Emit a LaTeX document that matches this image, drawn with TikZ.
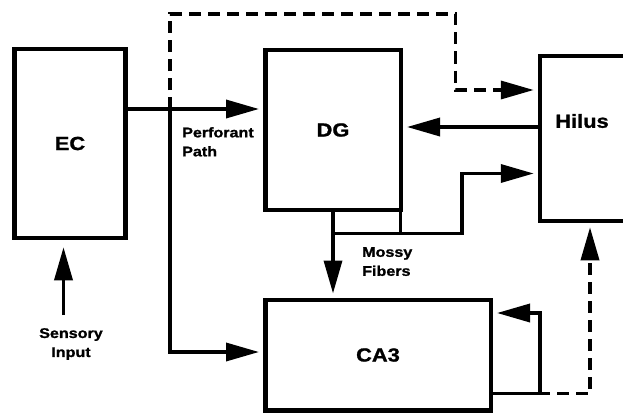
\documentclass[tikz,border=0pt]{standalone}
\usepackage{fontspec}
\setmainfont{Liberation Sans}[FakeStretch=1.15,BoldFeatures={FakeBold=1.2}]
\usetikzlibrary{arrows.meta,positioning,calc}

\begin{document}
\begin{tikzpicture}[x=1pt,y=-1pt,
  box/.style={draw,line width=4.5pt,inner sep=0pt,
    font=\fontsize{19}{19}\selectfont\bfseries},
  lab/.style={inner sep=0pt,font=\fontsize{14}{19}\selectfont\bfseries},
  wire/.style={line width=3.5pt},
  arr/.style={wire,-{Triangle[length=33pt,width=18pt]},shorten >=4pt},
  darr/.style={arr,dash pattern=on 12pt off 7pt}]
  \clip (0,0) rectangle (623,412);
  \node[box,minimum width=111pt,minimum height=189pt] (ec) at (70,143.5) {EC};
  \node[box,minimum width=135.5pt,minimum height=160pt] (dg) at (333,130) {DG};
  \node[box,minimum width=225.5pt,minimum height=110.5pt] (ca3) at (378,355) {CA3};
  \node[box,minimum width=100pt,minimum height=165pt] (hilus) at (590,138.5) {};
  \node[box,draw=none] (hlab) at (582,121) {Hilus};
  \node[lab,align=left,anchor=north west] (pplab) at (182,127) {Perforant\\Path};
  \node[lab,align=left,anchor=north west] (mflab) at (362,247) {Mossy\\Fibers};
  \node[lab,align=center,anchor=north] (sens) at (71,328) {Sensory\\Input};
  \coordinate (pp) at (170,109);
  \coordinate (dt) at (455.5,14);
  \coordinate (mf) at (333,233.5);
  \coordinate (rc) at (540,393.5);
  \draw[arr] (ec.east |- pp) -- (dg.west |- pp);
  \draw[arr] (pp) |- ([yshift=3pt]ca3.west);
  \draw[darr] (pp) |- (dt) |- ([yshift=48.5pt]hilus.west);
  \draw[arr] ([yshift=11.5pt]hilus.west) -- ([yshift=3pt]dg.east);
  \draw[arr] (dg.south) -- (dg.south |- ca3.north);
  \draw[wire] ([xshift=-2.5pt]dg.south east) -- ([xshift=-2.5pt]dg.south east |- mf);
  \draw[arr] (mf) -- ++(129,0) |- ([yshift=-35pt]hilus.west);
  \draw[arr] (ca3.east |- rc) -- (rc) |- ([yshift=42pt]ca3.east);
  \draw[wire] (rc) -- ++(10,0);
  \draw[darr,dash phase=12pt] ([xshift=10pt]rc) -| (hilus.south);
  \draw[arr,shorten >=7pt,shorten <=13pt] ([xshift=-7.5pt]sens.north)
    -- ([xshift=-7.5pt]sens.north |- ec.south);
\end{tikzpicture}
\end{document}
